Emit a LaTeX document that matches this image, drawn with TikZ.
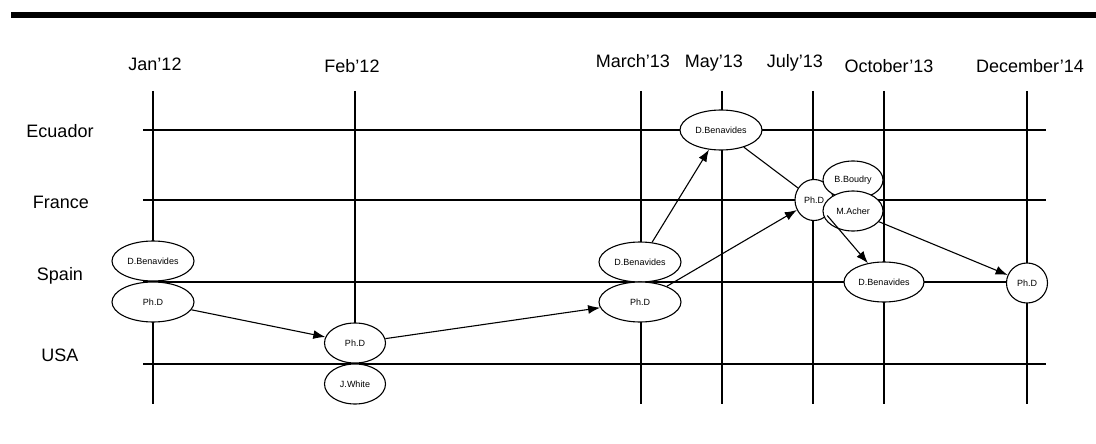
\documentclass[tikz,border=0pt]{standalone}
\usepackage{fontspec}
\setmainfont{Liberation Sans}
\usepackage{tikz}
\usetikzlibrary{shapes.geometric,arrows.meta}

\begin{document}
\begin{tikzpicture}[x=1pt,y=-1pt,line width=1.1pt,>={Latex[length=12pt,width=9pt]},
  when/.style={anchor=base,font=\fontsize{18}{18}\selectfont},
  who/.style={ellipse,draw,fill=white,inner sep=0pt,minimum width=82pt,minimum height=40pt,font=\fontsize{9}{9}\selectfont},
  whosm/.style={who,minimum width=61pt},
  dot/.style={who,minimum width=39pt,minimum height=41pt}]
  \useasboundingbox (0,0) rectangle (1096,444);
  \fill[black] (11,12) rectangle (1096,18);
   \foreach \yy in {130,200,282,364} \draw (143,\yy) -- (1046,\yy);
   \foreach \xx in {153,355,641,722,813,884,1027} \draw (\xx,91) -- (\xx,404);
    \node[when] (tjan) at (155,71) {Jan’12};
    \node[when] (tfeb) at (352,73) {Feb’12};
    \node[when] (tmar) at (633,68) {March’13};
    \node[when] (tmay) at (714,68) {May’13};
    \node[when] (tjul) at (795,68) {July’13};
    \node[when] (toct) at (889,73) {October’13};
    \node[when] (tdec) at (1030,73) {December’14};
   \node[when] (ecu) at (60,138) {Ecuador};
   \node[when] (fra) at (61,208) {France};
   \node[when] (spa) at (60,280) {Spain};
   \node[when] (usa) at (60,361) {USA};
 \node[who] (janben) at (153,261) {D.Benavides};
 \node[who] (janphd) at (153,302) {Ph.D};
 \node[whosm] (febphd) at (355,343) {Ph.D};
 \node[whosm] (febwhite) at (355,384) {J.White};
 \node[who] (marben) at (640,262) {D.Benavides};
 \node[who] (marphd) at (640,302) {Ph.D};
 \node[who] (mayben) at (721,130) {D.Benavides};
 \node[dot,minimum width=38pt] (julphd) at (814,200) {Ph.D};
 \node[whosm,minimum width=60pt,minimum height=38pt] (boudry) at (853,180) {B.Boudry};
 \node[whosm,minimum width=60pt] (acher) at (853,211) {M.Acher};
 \node[who,minimum width=80pt] (octben) at (884,282) {D.Benavides};
 \node[dot,minimum width=41pt,minimum height=40pt] (decphd) at (1027,283) {Ph.D};
   \draw[->] (janphd) -- (febphd);
   \draw[->] (febphd) -- (marphd);
   \draw[->] (marben) -- (mayben);
   \draw[->] (marphd) -- (julphd);
   \draw (mayben) -- (julphd);
   \draw[->] (julphd) -- (octben);
   \draw[->] (acher) -- (decphd);
\end{tikzpicture}
\end{document}
